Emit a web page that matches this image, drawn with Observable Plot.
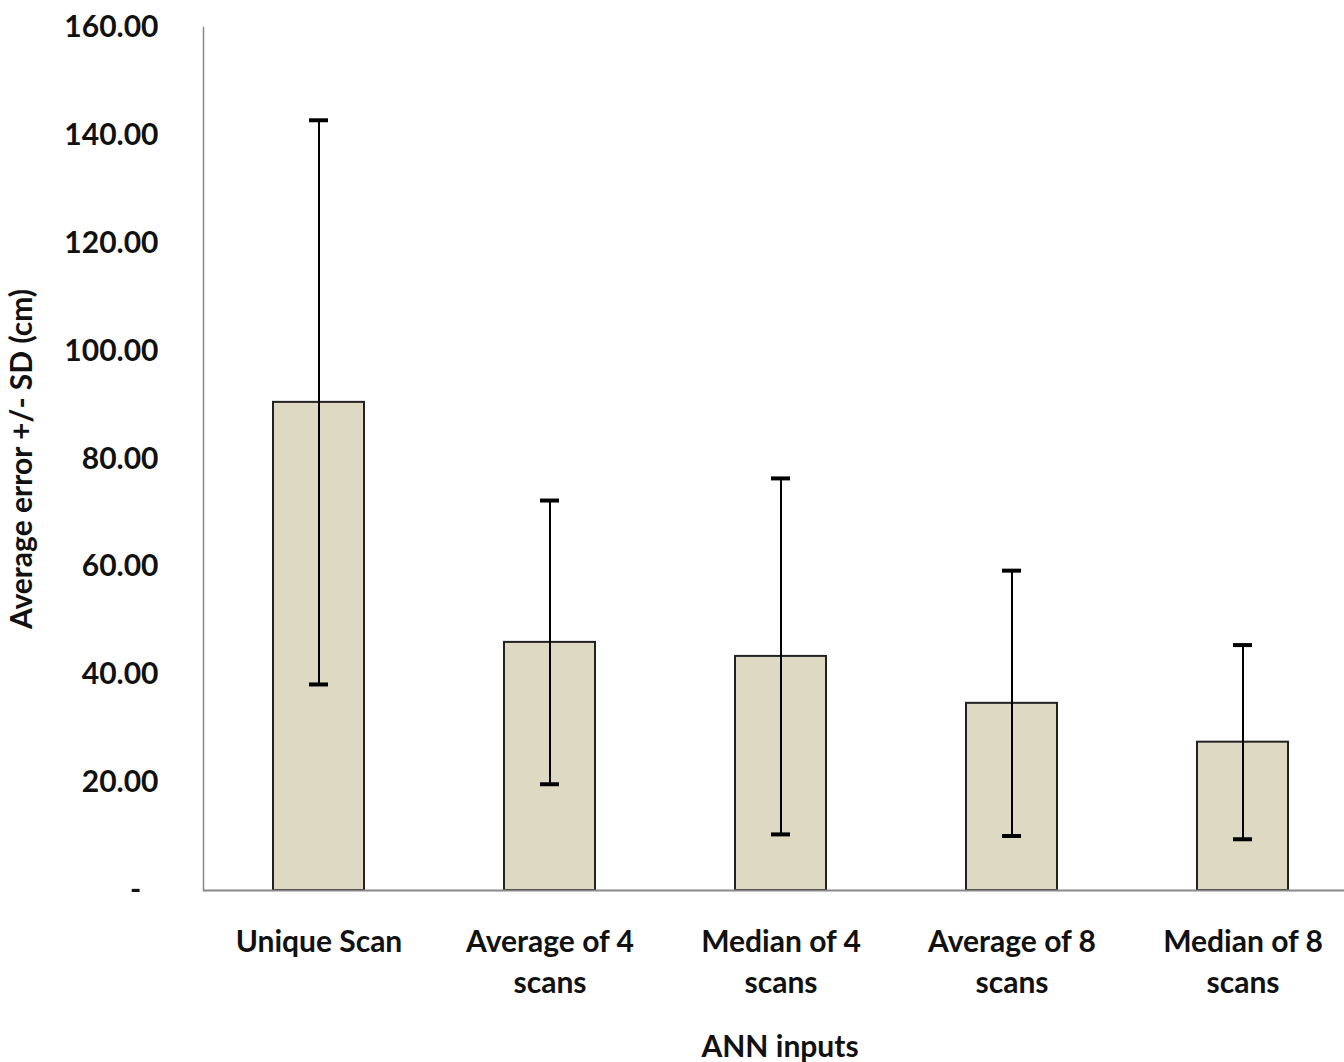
<!DOCTYPE html>
<html>
<head>
<meta charset="utf-8">
<script src="https://cdn.jsdelivr.net/npm/d3@7"></script>
<script src="https://cdn.jsdelivr.net/npm/@observablehq/plot@0.6"></script>
<style>
  html, body { margin: 0; padding: 0; background: #fff; }
  #chart svg { display: block; }
</style>
</head>
<body>
<div id="chart"></div>
<script>
const categories = ["Unique Scan", "Average of 4 scans", "Median of 4 scans", "Average of 8 scans", "Median of 8 scans"];
const tickLabels = ["Unique Scan", "Average of 4\nscans", "Median of 4\nscans", "Average of 8\nscans", "Median of 8\nscans"];
const means = [90.5, 46.0, 43.4, 34.7, 27.5];
const sds = [52.3, 26.3, 33.0, 24.6, 18.0];
const yTicks = [0, 20, 40, 60, 80, 100, 120, 140, 160];
const yLabel = "Average error +/- SD (cm)";
const xLabel = "ANN inputs";

const data = categories.map((c, i) => ({cat: c, label: tickLabels[i], mean: means[i], sd: sds[i]}));
const labelOf = new Map(data.map(d => [d.cat, d.label]));

const font = "Lato, 'Open Sans', sans-serif";

const chart = Plot.plot({
  width: 1344,
  height: 1062,
  marginLeft: 203,
  marginRight: 0,
  marginTop: 27,
  marginBottom: 172,
  style: {fontFamily: font, fontSize: "30px", fontWeight: "bold", color: "#111", background: "#fff"},
  x: {type: "band", domain: categories, range: [203, 1358], paddingInner: 0.605, paddingOuter: 0.3025},
  y: {domain: [0, 160], ticks: yTicks},
  marks: [
    Plot.barY(data, {x: "cat", y: "mean", fill: "#DDD9C3", stroke: "#222", strokeWidth: 2}),
    Plot.ruleX(data, {x: "cat", y1: d => d.mean - d.sd, y2: d => d.mean + d.sd, stroke: "#000", strokeWidth: 2}),
    Plot.tickY(data, {x: "cat", y: d => d.mean + d.sd, stroke: "#000", strokeWidth: 4, insetLeft: 36, insetRight: 36}),
    Plot.tickY(data, {x: "cat", y: d => d.mean - d.sd, stroke: "#000", strokeWidth: 4, insetLeft: 36, insetRight: 36}),
    Plot.frame({anchor: "left", stroke: "#888", strokeWidth: 1.5}),
    Plot.ruleY([0], {stroke: "#888", strokeWidth: 2}),
    Plot.axisY({ticks: yTicks, tickSize: 0, tickPadding: 45, label: null,
      tickFormat: d => d === 0 ? "-\u2007" : d.toFixed(2), fontSize: 30, fontWeight: "bold"}),
    Plot.axisX({tickSize: 0, tickPadding: 32, label: null, lineHeight: 1.37,
      tickFormat: c => labelOf.get(c), fontSize: 30, fontWeight: "bold"}),
    Plot.text([yLabel], {frameAnchor: "left", textAnchor: "middle", dx: -181, rotate: -90, fontSize: 30, fontWeight: "bold"}),
    Plot.text([xLabel], {frameAnchor: "bottom", lineAnchor: "top", dy: 145, dx: 6, fontSize: 30, fontWeight: "bold"})
  ]
});
document.getElementById("chart").appendChild(chart);
</script>
</body>
</html>
